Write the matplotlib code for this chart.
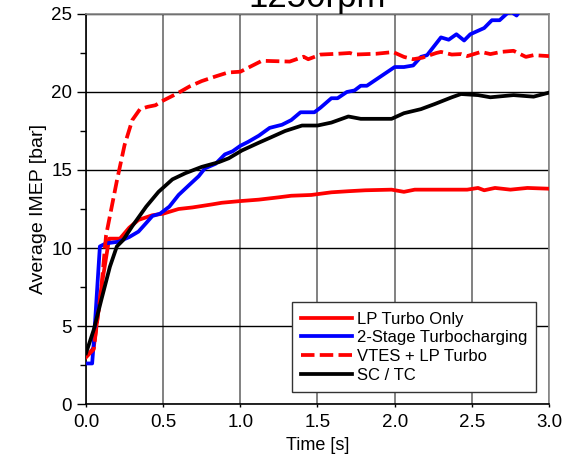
import matplotlib
matplotlib.use("Agg")
import matplotlib.pyplot as plt
from matplotlib.ticker import MultipleLocator

plt.rcParams['font.family'] = ['Liberation Sans', 'DejaVu Sans']

# Transient IMEP build-up at 1250 rpm
t_lp = [0.0, 0.05, 0.10, 0.15, 0.22, 0.28, 0.34, 0.43, 0.50, 0.60, 0.69, 0.82, 0.88, 0.99,
        1.12, 1.25, 1.33, 1.46, 1.59, 1.70, 1.81, 1.98, 2.06, 2.13, 2.34, 2.47, 2.54, 2.58,
        2.65, 2.75, 2.86, 3.0]
imep_lp = [3.0, 3.6, 7.5, 10.6, 10.6, 11.3, 11.8, 12.1, 12.2, 12.5, 12.6, 12.8, 12.9, 13.0,
           13.1, 13.25, 13.35, 13.4, 13.57, 13.64, 13.7, 13.74, 13.6, 13.74, 13.74, 13.74,
           13.85, 13.7, 13.85, 13.74, 13.85, 13.8]

t_2stage = [0.0, 0.04, 0.05, 0.09, 0.13, 0.21, 0.28, 0.34, 0.39, 0.43, 0.48, 0.54, 0.60,
            0.67, 0.73, 0.77, 0.84, 0.90, 0.95, 1.0, 1.05, 1.12, 1.19, 1.27, 1.33, 1.39,
            1.48, 1.52, 1.59, 1.63, 1.69, 1.74, 1.78, 1.82, 1.88, 2.0, 2.06, 2.12, 2.17,
            2.21, 2.30, 2.35, 2.40, 2.45, 2.49, 2.58, 2.63, 2.68, 2.73, 2.76, 2.79, 2.84,
            2.92, 3.0]
imep_2stage = [2.6, 2.6, 3.9, 10.1, 10.3, 10.4, 10.7, 11.05, 11.6, 12.05, 12.2, 12.65, 13.4,
               14.05, 14.6, 15.1, 15.4, 16.0, 16.2, 16.55, 16.8, 17.2, 17.7, 17.9, 18.2, 18.7,
               18.7, 19.0, 19.6, 19.6, 20.0, 20.1, 20.4, 20.4, 20.8, 21.6, 21.6, 21.7, 22.25,
               22.36, 23.5, 23.35, 23.7, 23.3, 23.7, 24.1, 24.6, 24.6, 25.05, 25.1, 24.9, 25.6,
               26.0, 26.4]

t_vtes = [0.0, 0.05, 0.10, 0.13, 0.17, 0.20, 0.25, 0.30, 0.35, 0.40, 0.45, 0.50, 0.59, 0.67,
          0.75, 0.84, 0.92, 1.0, 1.05, 1.14, 1.32, 1.41, 1.44, 1.52, 1.63, 1.71, 1.74, 1.88,
          1.99, 2.06, 2.12, 2.18, 2.27, 2.30, 2.37, 2.43, 2.47, 2.56, 2.62, 2.69, 2.77, 2.85,
          2.90, 3.0]
imep_vtes = [3.0, 3.5, 7.5, 10.8, 12.8, 14.3, 16.6, 18.2, 18.9, 19.05, 19.15, 19.45, 19.9,
             20.35, 20.7, 21.0, 21.25, 21.3, 21.55, 22.0, 21.95, 22.26, 22.1, 22.4, 22.45,
             22.5, 22.4, 22.45, 22.56, 22.25, 22.1, 22.2, 22.5, 22.57, 22.4, 22.43, 22.3,
             22.57, 22.43, 22.57, 22.64, 22.25, 22.36, 22.3]

t_sctc = [0.0, 0.05, 0.10, 0.155, 0.20, 0.24, 0.30, 0.39, 0.47, 0.56, 0.645, 0.75, 0.86,
          0.925, 1.01, 1.12, 1.20, 1.29, 1.40, 1.50, 1.59, 1.70, 1.78, 1.98, 2.06, 2.17,
          2.26, 2.37, 2.43, 2.54, 2.62, 2.77, 2.90, 3.0]
imep_sctc = [3.25, 4.75, 6.7, 8.8, 10.1, 10.5, 11.4, 12.65, 13.6, 14.4, 14.8, 15.2, 15.5,
             15.75, 16.25, 16.75, 17.1, 17.5, 17.85, 17.85, 18.04, 18.43, 18.28, 18.28, 18.64,
             18.9, 19.23, 19.66, 19.87, 19.8, 19.66, 19.8, 19.7, 19.96]

fig = plt.figure(figsize=(5.79, 4.63), dpi=100)
ax = fig.add_axes([0.1485, 0.1274, 0.7997, 0.8424])

lw = 2.7
ax.plot(t_lp, imep_lp, color='#ff0000', lw=lw, label='LP Turbo Only', zorder=3)
ax.plot(t_2stage, imep_2stage, color='#0000ff', lw=lw, label='2-Stage Turbocharging', zorder=3)
ax.plot(t_vtes, imep_vtes, color='#ff0000', lw=lw, dashes=(3.6, 1.4), dash_capstyle='butt',
        label='VTES + LP Turbo', zorder=3)
ax.plot(t_sctc, imep_sctc, color='black', lw=lw, label='SC / TC', zorder=3)

ax.set_xlim(0, 3.0)
ax.set_ylim(0, 25)
ax.xaxis.set_major_locator(MultipleLocator(0.5))
ax.yaxis.set_major_locator(MultipleLocator(5))
ax.yaxis.set_minor_locator(MultipleLocator(2.5))
ax.set_xticklabels([f"{v:.1f}" for v in ax.get_xticks()])

ax.xaxis.grid(True, color='#777777', lw=1.3)
ax.yaxis.grid(True, color='black', lw=1.0)
ax.set_axisbelow(True)

for s in ('top', 'right'):
    ax.spines[s].set_color('#888888')
    ax.spines[s].set_linewidth(1.2)
for s in ('left', 'bottom'):
    ax.spines[s].set_color('black')
    ax.spines[s].set_linewidth(1.2)

ax.tick_params(axis='y', which='major', direction='out', length=6.5, width=1, pad=3.5,
               labelsize=13.5)
ax.tick_params(axis='y', which='minor', direction='out', length=4, width=1)
ax.tick_params(axis='x', which='major', direction='out', length=2.5, width=1, pad=5,
               labelsize=13.5)

ax.set_xlabel('Time [s]', fontsize=13, labelpad=4)
ax.set_ylabel('Average IMEP [bar]', fontsize=14, labelpad=3)
ax.set_title('1250rpm', fontsize=25, pad=3)

leg = ax.legend(loc='lower right', bbox_to_anchor=(0.972, 0.0315), borderaxespad=0,
                fontsize=12, handlelength=3.05, handletextpad=0.3, labelspacing=0.22,
                borderpad=0.55, fancybox=False, framealpha=1, edgecolor='#333333')
leg.get_frame().set_linewidth(1.0)

fig.savefig('out.png', dpi=100)
